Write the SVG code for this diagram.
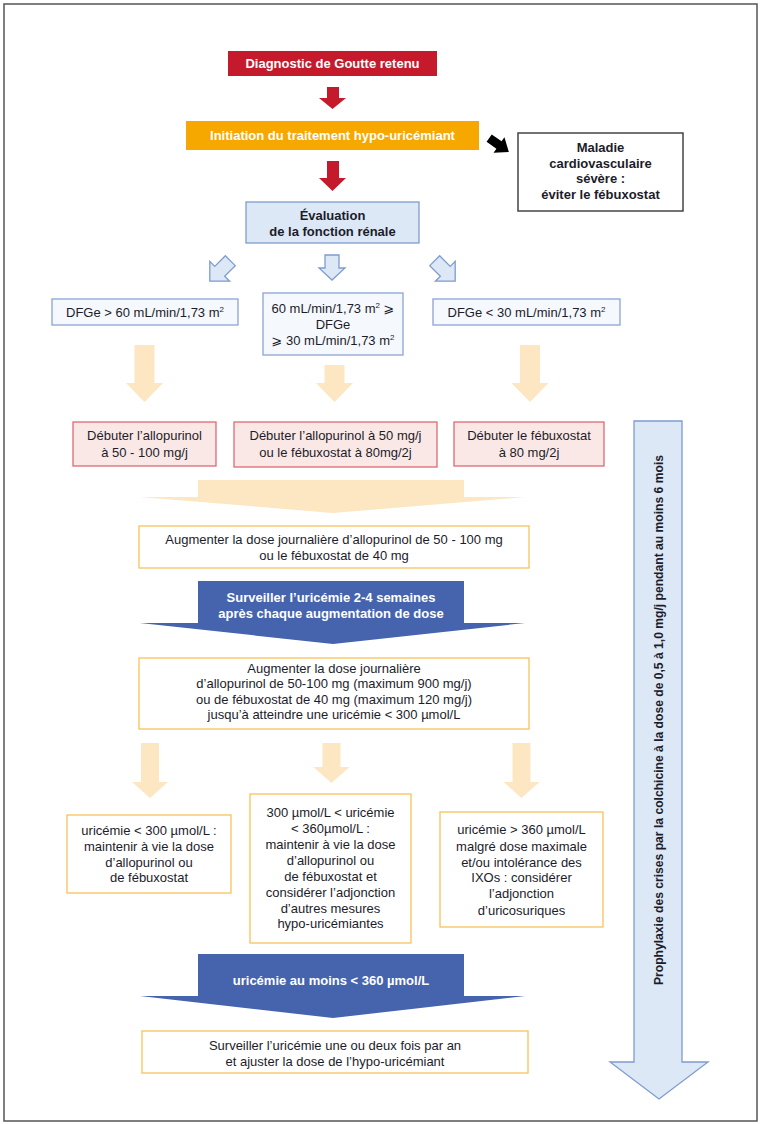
<svg xmlns="http://www.w3.org/2000/svg" width="762" height="1124" viewBox="0 0 762 1124">
<style>
 text { font-family: "Liberation Sans", Arial, "DejaVu Sans", sans-serif; font-size: 13px; fill: #1c1c2a; text-anchor: middle; }
 .b { font-weight: bold; }
 .w { fill: #ffffff; font-weight: bold; }
 .blue { fill: #dde8f6; stroke: #7f9bd0; stroke-width: 1.3; }
 .dfg { fill: #f5f8fd; stroke: #8aa3d6; stroke-width: 1.3; }
 .deb { fill: #fae8e6; stroke: #dc6b74; stroke-width: 1.3; }
 .yel { fill: #ffffff; stroke: #f7c35b; stroke-width: 1.3; }
 .peach { fill: #fde6c2; }
 .dark { fill: #4564ad; }
 .red { fill: #c41a2c; }
 .sup { font-size: 8px; }
</style>
<rect x="0" y="0" width="762" height="1124" fill="#ffffff"/>
<rect x="4" y="4" width="753" height="1117" fill="none" stroke="#555555" stroke-width="1.5"/>

<g id="connectors">
 <polygon class="red" points="327,87 339,87 339,98 346,98 332.5,109 319,98 327,98"/>
 <polygon class="red" points="327,161 339,161 339,178 346,178 332.5,191 319,178 327,178"/>
 <polygon fill="#000000" transform="translate(499,145) rotate(35)" points="-12,-4.5 0,-4.5 0,-9.5 12,0 0,9.5 0,4.5 -12,4.5"/>
 <polygon class="blue" transform="translate(219.7,271.3) rotate(45)" points="-7,-15 7,-15 7,0 14,0 0,14 -14,0 -7,0"/>
 <polygon class="blue" points="325,255 339,255 339,268 345,268 332,280 319,268 325,268"/>
 <polygon class="blue" transform="translate(445.3,271.3) rotate(-45)" points="-7,-15 7,-15 7,0 14,0 0,14 -14,0 -7,0"/>
 <polygon class="peach" points="134.5,345 154.5,345 154.5,383 163,383 144.5,402 126,383 134.5,383"/>
 <polygon class="peach" points="324.5,365 344.5,365 344.5,383 353,383 334.5,402 316,383 324.5,383"/>
 <polygon class="peach" points="520,345 540,345 540,383 548.5,383 530,402 511.5,383 520,383"/>
 <polygon class="peach" points="198,480 464,480 464,497 525,497 333,513 140,497 198,497"/>
 <polygon class="peach" points="141,743 159,743 159,782 168,782 150,798 132,782 141,782"/>
 <polygon class="peach" points="322.5,743 340.5,743 340.5,767 349.5,767 331.5,783 313.5,767 322.5,767"/>
 <polygon class="peach" points="512.5,743 530.5,743 530.5,782 539.5,782 521.5,798 503.5,782 512.5,782"/>
</g>

<g id="diagnostic">
 <rect class="red" x="228" y="51" width="209" height="25"/>
 <text class="w" x="332.5" y="68">Diagnostic de Goutte retenu</text>
</g>
<g id="initiation">
 <rect x="186" y="121" width="293" height="29" fill="#f6a800"/>
 <text class="w" x="332.5" y="140">Initiation du traitement hypo-uricémiant</text>
</g>
<g id="maladie">
 <rect x="518" y="133" width="165" height="78" fill="#ffffff" stroke="#444444" stroke-width="1.5"/>
 <text class="b" x="600.5" y="152">Maladie</text>
 <text class="b" x="600.5" y="168">cardiovasculaire</text>
 <text class="b" x="600.5" y="183">sévère :</text>
 <text class="b" x="600.5" y="199">éviter le fébuxostat</text>
</g>
<g id="evaluation">
 <rect class="blue" x="246" y="202" width="173" height="41"/>
 <text class="b" x="332.5" y="220">Évaluation</text>
 <text class="b" x="332.5" y="236">de la fonction rénale</text>
</g>
<g id="dfge-sup60">
 <rect class="dfg" x="52" y="299" width="186" height="26"/>
 <text x="145" y="317">DFGe &gt; 60 mL/min/1,73 m<tspan class="sup" dy="-5">2</tspan></text>
</g>
<g id="dfge-mid">
 <rect class="dfg" x="263" y="293" width="140" height="62"/>
 <text x="333" y="313">60 mL/min/1,73 m<tspan class="sup" dy="-5">2</tspan><tspan dy="5"> ⩾</tspan></text>
 <text x="333" y="329">DFGe</text>
 <text x="333" y="345">⩾ 30 mL/min/1,73 m<tspan class="sup" dy="-5">2</tspan></text>
</g>
<g id="dfge-inf30">
 <rect class="dfg" x="433" y="299" width="187" height="26"/>
 <text x="526.5" y="317">DFGe &lt; 30 mL/min/1,73 m<tspan class="sup" dy="-5">2</tspan></text>
</g>
<g id="debut-allo">
 <rect class="deb" x="73" y="422" width="143" height="44"/>
 <text x="144.5" y="440">Débuter l’allopurinol</text>
 <text x="144.5" y="457">à 50 - 100 mg/j</text>
</g>
<g id="debut-mid">
 <rect class="deb" x="234" y="422" width="203" height="45"/>
 <text x="335.5" y="440">Débuter l’allopurinol à 50 mg/j</text>
 <text x="335.5" y="457">ou le fébuxostat à 80mg/2j</text>
</g>
<g id="debut-febu">
 <rect class="deb" x="454" y="422" width="150" height="44"/>
 <text x="529" y="440">Débuter le fébuxostat</text>
 <text x="529" y="457">à 80 mg/2j</text>
</g>
<g id="augmenter1">
 <rect class="yel" x="139" y="526" width="390" height="42"/>
 <text x="334" y="544">Augmenter la dose journalière d’allopurinol de 50 - 100 mg</text>
 <text x="334" y="560">ou le fébuxostat de 40 mg</text>
</g>
<g id="surveiller">
 <polygon class="dark" points="198,581 464,581 464,623 525,623 333,644 140,623 198,623"/>
 <text class="w" x="331" y="602">Surveiller l’uricémie 2-4 semaines</text>
 <text class="w" x="331" y="618">après chaque augmentation de dose</text>
</g>
<g id="augmenter2">
 <rect class="yel" x="139" y="658" width="390" height="71"/>
 <text x="334" y="673">Augmenter la dose journalière</text>
 <text x="334" y="688">d’allopurinol de 50-100 mg (maximum 900 mg/j)</text>
 <text x="334" y="704">ou de fébuxostat de 40 mg (maximum 120 mg/j)</text>
 <text x="334" y="719">jusqu’à atteindre une uricémie &lt; 300 µmol/L</text>
</g>
<g id="res-inf300">
 <rect class="yel" x="67" y="815" width="164" height="78"/>
 <text x="149" y="835">uricémie &lt; 300 µmol/L :</text>
 <text x="149" y="851">maintenir à vie la dose</text>
 <text x="149" y="867">d’allopurinol ou</text>
 <text x="149" y="882">de fébuxostat</text>
</g>
<g id="res-mid">
 <rect class="yel" x="250" y="794" width="161" height="149"/>
 <text x="330.5" y="817">300 µmol/L &lt; uricémie</text>
 <text x="330.5" y="833">&lt; 360µmol/L :</text>
 <text x="330.5" y="849">maintenir à vie la dose</text>
 <text x="330.5" y="865">d’allopurinol ou</text>
 <text x="330.5" y="881">de fébuxostat et</text>
 <text x="330.5" y="897">considérer l’adjonction</text>
 <text x="330.5" y="913">d’autres mesures</text>
 <text x="330.5" y="928">hypo-uricémiantes</text>
</g>
<g id="res-sup360">
 <rect class="yel" x="440" y="812" width="163" height="115"/>
 <text x="521.5" y="834">uricémie &gt; 360 µmol/L</text>
 <text x="521.5" y="851">malgré dose maximale</text>
 <text x="521.5" y="867">et/ou intolérance des</text>
 <text x="521.5" y="882">IXOs : considérer</text>
 <text x="521.5" y="898">l’adjonction</text>
 <text x="521.5" y="915">d’uricosuriques</text>
</g>
<g id="objectif">
 <polygon class="dark" points="198,954 464,954 464,996 525,996 333,1018 140,996 198,996"/>
 <text class="w" x="331" y="985">uricémie au moins &lt; 360 µmol/L</text>
</g>
<g id="suivi">
 <rect class="yel" x="142" y="1031" width="386" height="42"/>
 <text x="335" y="1050">Surveiller l’uricémie une ou deux fois par an</text>
 <text x="335" y="1066">et ajuster la dose de l’hypo-uricémiant</text>
</g>
<g id="prophylaxie">
 <polygon class="blue" points="634,421 682,421 682,1062 708,1062 659,1099 610,1062 634,1062"/>
 <text class="b" transform="translate(663,720) rotate(-90)" x="0" y="0" textLength="530" lengthAdjust="spacingAndGlyphs">Prophylaxie des crises par la colchicine à la dose de 0,5 à 1,0 mg/j pendant au moins 6 mois</text>
</g>
</svg>
